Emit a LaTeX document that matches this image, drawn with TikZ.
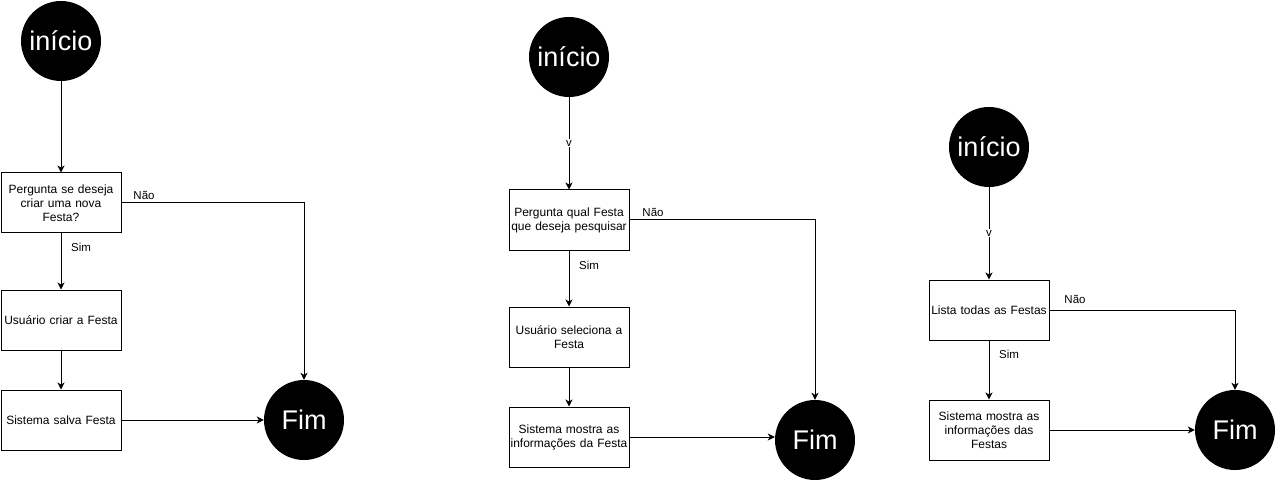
\documentclass[tikz,border=0pt]{standalone}
\usepackage{fontspec}
\setmainfont{Liberation Sans}
\usetikzlibrary{arrows.meta}
\begin{document}
\begin{tikzpicture}[x=1pt,y=-1pt,
  term/.style={circle,fill=black,text=white,minimum size=80pt,inner sep=0pt,font=\fontsize{27}{30}\selectfont},
  stepbox/.style={draw,line width=1pt,minimum width=120pt,minimum height=60pt,inner sep=0pt,text width=118pt,align=center,font=\fontsize{12}{14}\selectfont},
  lbl/.style={font=\fontsize{11.5}{13}\selectfont,inner sep=1pt},
  conn/.style={line width=1pt,-{Stealth[length=7pt,width=7pt,inset=2pt]}}]
\useasboundingbox[fill=white] (0,0) rectangle (1277,481);

% Flow 1
\node[term] (i1) at (61,41) {início};
\node[stepbox] (a1) at (61,203) {Pergunta se deseja\\criar uma nova\\Festa?};
\node[stepbox] (a2) at (61,320) {Usuário criar a Festa};
\node[stepbox] (a3) at (61,420) {Sistema salva Festa};
\node[term] (f1) at (304,420) {Fim};
\draw[conn] (i1) -- (a1);
\draw[conn] (a1) -- (a2);
\draw[conn] (a2) -- (a3);
\draw[conn] (a3) -- (f1);
\draw[conn] (a1.east) -| (f1.north);
\node[lbl] (n1) at (144,195) {Não};
\node[lbl] (s1) at (81,247) {Sim};

% Flow 2
\node[term] (i2) at (569,57) {início};
\node[stepbox] (b1) at (569,220) {Pergunta qual Festa\\que deseja pesquisar};
\node[stepbox] (b2) at (569,337) {Usuário seleciona a\\Festa};
\node[stepbox] (b3) at (569,437) {Sistema mostra as\\informações da Festa};
\node[term] (f2) at (815,440) {Fim};
\draw[conn] (i2) -- (b1);
\node[lbl,fill=white] (v2) at (569,143) {v};
\draw[conn] (b1) -- (b2);
\draw[conn] (b2) -- (b3);
\draw[conn] (b3.east) -- (b3.east -| f2.west);
\draw[conn] (b1.east) -| (f2.north);
\node[lbl] (n2) at (653,212) {Não};
\node[lbl] (s2) at (589,265) {Sim};

% Flow 3
\node[term] (i3) at (989,147) {início};
\node[stepbox] (c1) at (989,310) {Lista todas as Festas};
\node[stepbox] (c2) at (989,430) {Sistema mostra as\\informações das\\Festas};
\node[term] (f3) at (1235,430) {Fim};
\draw[conn] (i3) -- (c1);
\node[lbl,fill=white] (v3) at (989,233) {v};
\draw[conn] (c1) -- (c2);
\draw[conn] (c2) -- (f3);
\draw[conn] (c1.east) -| (f3.north);
\node[lbl] (n3) at (1075,299) {Não};
\node[lbl] (s3) at (1009,354) {Sim};
\end{tikzpicture}
\end{document}
